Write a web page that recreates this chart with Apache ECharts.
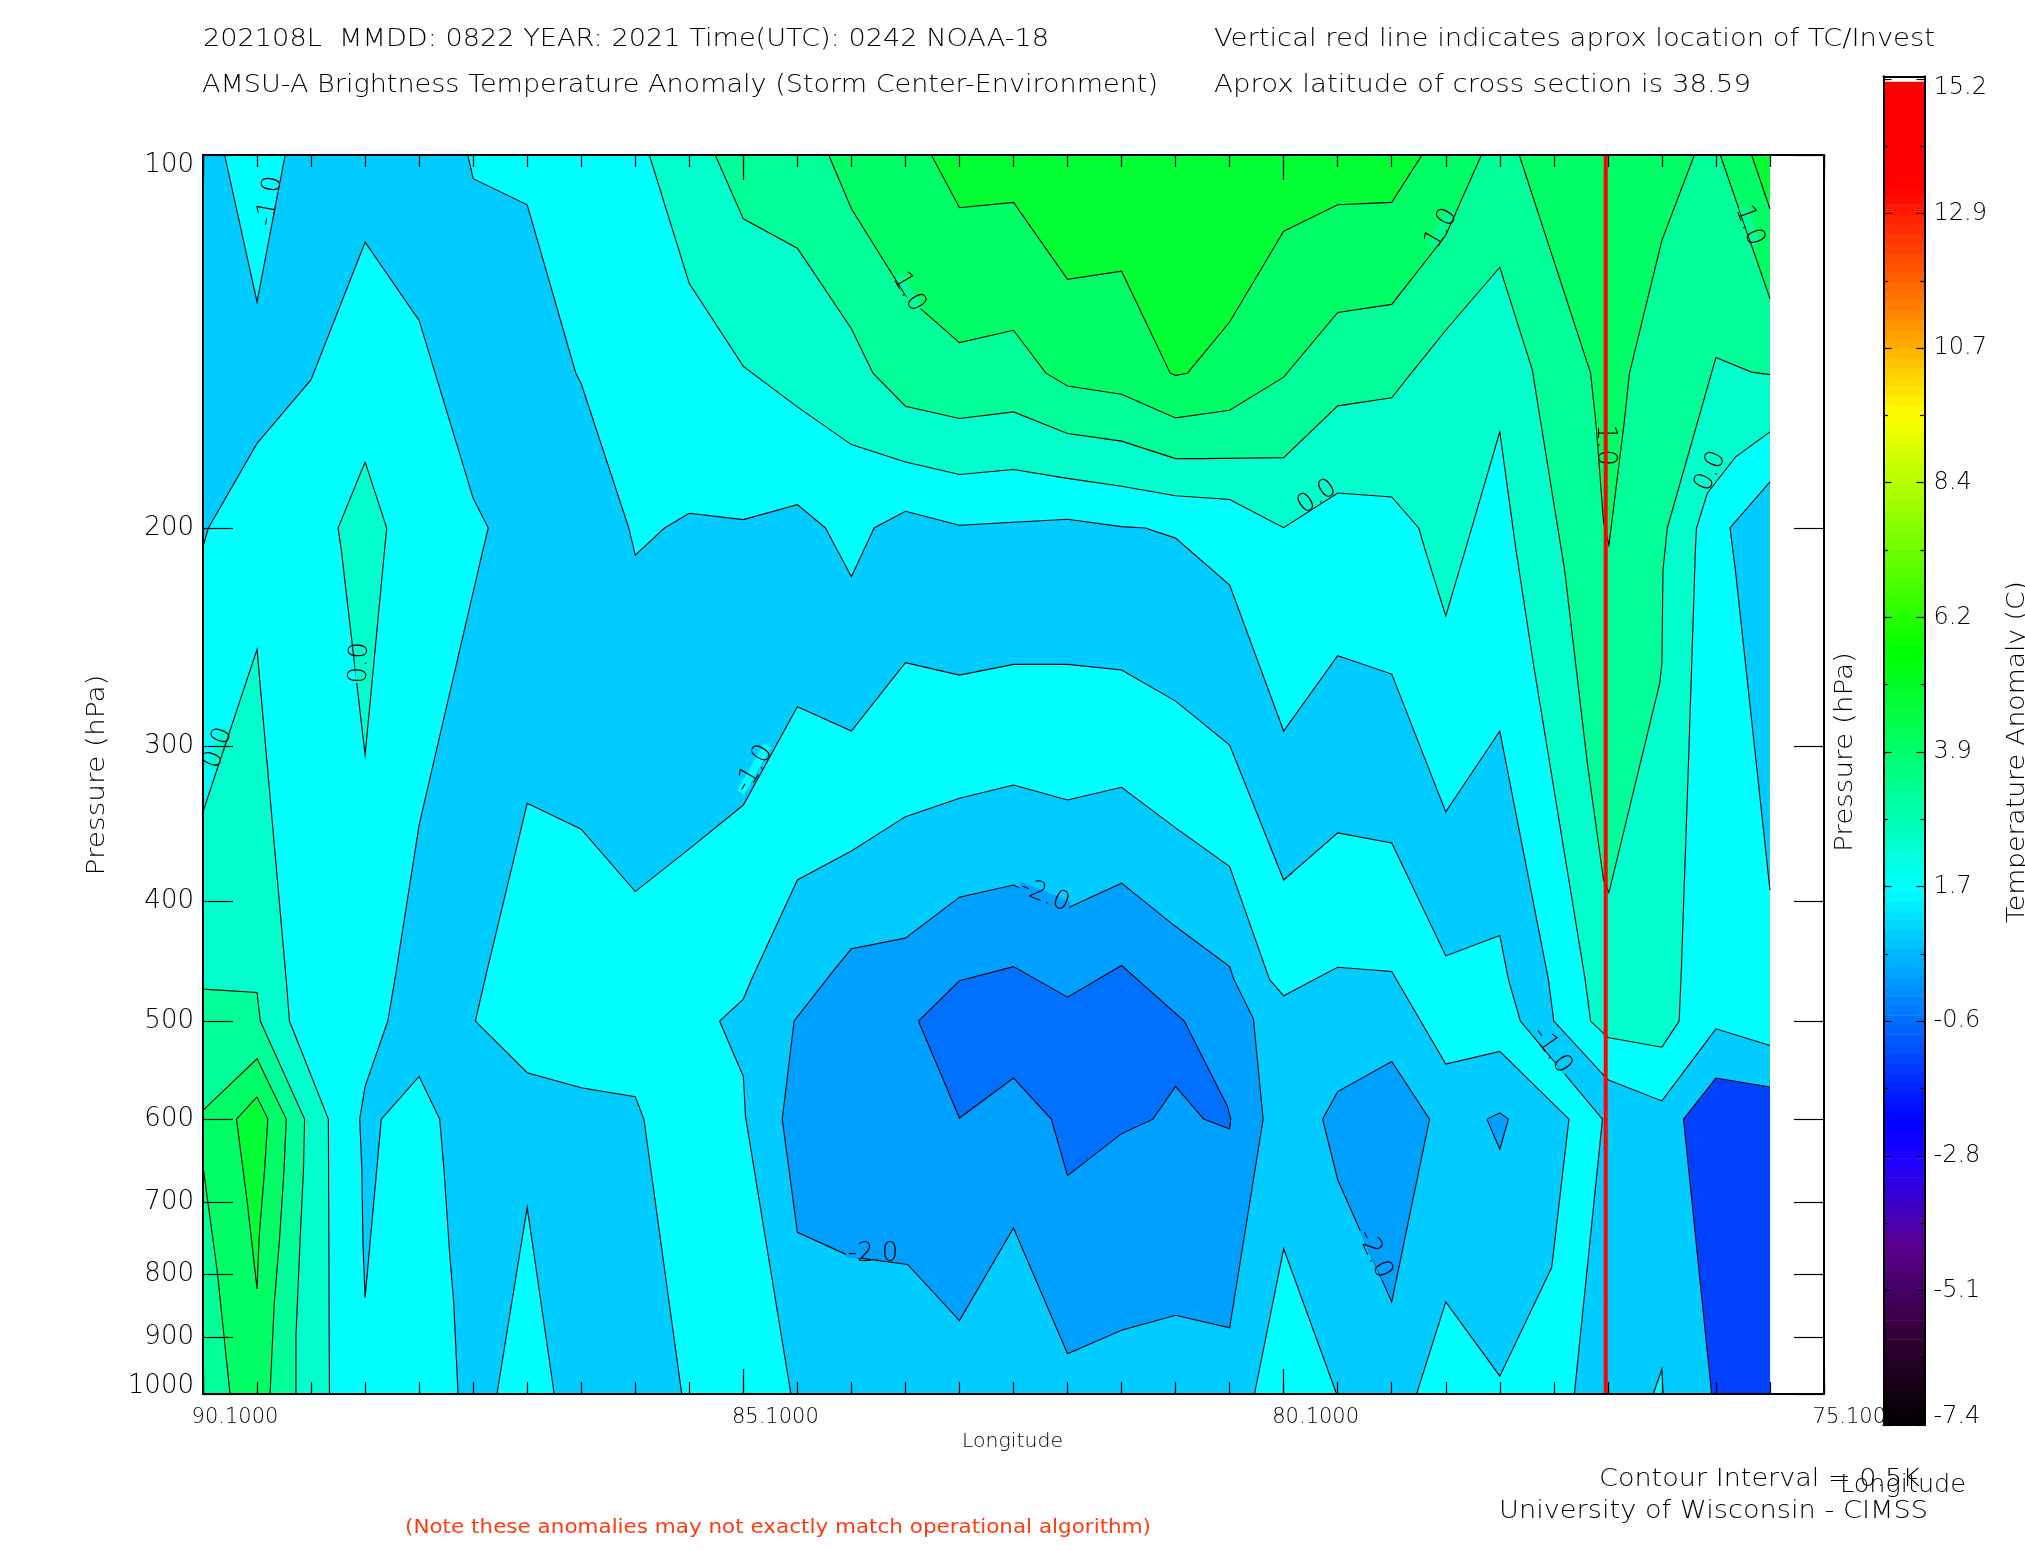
<!DOCTYPE html>
<html><head><meta charset="utf-8">
<style>html,body{margin:0;padding:0;background:#fff}#c{width:2025px;height:1550px}</style>
<script src="https://cdn.jsdelivr.net/npm/echarts@6/dist/echarts.min.js"></script>
</head><body><div id="c"></div>
<script>
// ---- axis values ----
const lonMajor = [90.1, 85.1, 80.1, 75.1];
const lonMinor = [90.1,89.6,89.1,88.6,88.1,87.6,87.1,86.6,86.1,85.6,85.1,84.6,84.1,83.6,83.1,82.6,82.1,81.6,81.1,80.6,80.1,79.6,79.1,78.6,78.1,77.6,77.1,76.6,76.1,75.6,75.1];
const pressureTicks = [100,200,300,400,500,600,700,800,900,1000];
const pressureLabelAt = [101.9,200,300,400,500,600,700,800,900,985];
const barTicks = [-7.4,-5.14,-2.88,-0.62,1.64,3.9,6.16,8.42,10.68,12.94,15.2];
const barLabelAt = [-7.27,-5.14,-2.88,-0.62,1.64,3.9,6.16,8.42,10.68,12.94,15.05];
const barLabels = ['-7.4','-5.1','-2.8','-0.6','1.7','3.9','6.2','8.4','10.7','12.9','15.2'];
const barMinor = [-6.27,-4.01,-1.75,0.51,2.77,5.03,7.29,9.55,11.81,14.07];
const tcLon = 77.12;
// ---- contour band outlines: [longitude, pressure hPa] ----
const bandBase = [[90.1,100],[75.6,100],[75.6,1000],[90.1,1000]];
const bandUpperBlue = [[90.1,100],[89.9,100],[89.6,131.4],[89.34,100],[87.65,100],[87.6,104.5],[87.1,109.7],[86.65,150],[86.6,153],[86.16,200],[86.1,210.4],[85.83,200],[85.6,194.6],[85.1,196.9],[84.6,191.5],[84.34,200],[84.1,219],[83.89,200],[83.6,193.9],[83.1,199],[82.6,197.9],[82.1,196.8],[81.6,199.5],[81.38,200],[81.1,203.8],[80.6,222.4],[80.1,291.7],[79.6,253.6],[79.1,262.4],[78.6,339],[78.1,291.7],[77.65,463],[77.6,500],[77.1,557.7],[76.6,580],[76.1,507.3],[75.6,523.3],[75.6,1000],[77.41,1000],[77.15,600],[77.91,500],[78.02,463],[78.1,426.6],[78.6,443],[79.1,359.1],[79.6,352.5],[80.1,384.7],[80.6,299.4],[81.1,275.9],[81.6,260.4],[82.1,257.7],[82.6,257.7],[83.1,262.9],[83.6,256.9],[84.1,291.7],[84.6,278.8],[85.1,334.7],[85.6,363.1],[86.1,393.1],[86.6,350.1],[87.1,333.6],[87.47,454.6],[87.58,500],[87.1,550.4],[86.6,566],[86.1,575.5],[86.02,600],[85.67,1000],[86.85,1000],[87.1,707],[87.38,1000],[87.74,1000],[87.78,844],[87.82,765],[87.87,659],[87.91,600],[88.1,554.3],[88.45,600],[88.6,836],[88.62,755],[88.63,659],[88.65,600],[88.6,564.6],[88.39,500],[88.31,454.6],[88.1,347.3],[87.51,208.4],[87.46,200],[87.6,189.3],[88.1,136],[88.6,117.6],[89.1,151.8],[89.6,170.9],[90.05,200],[90.1,207]];
const bandRightBlue = [[75.6,183.6],[75.97,200],[75.92,216.3],[75.6,391.9]];
const bandLowerBlue = [[85.03,464],[84.6,384.7],[84.1,364.5],[83.6,342],[83.1,330.5],[82.6,322.5],[82.1,331.6],[81.6,323.8],[81.1,349.2],[80.6,375.3],[80.23,463],[80.1,477.1],[79.82,463],[79.6,452.4],[79.1,456.1],[78.6,541.7],[78.1,529.1],[77.46,600],[77.62,790.6],[78.1,967.4],[78.6,842.7],[78.87,1000],[79.61,1000],[80.1,763.6],[80.37,1000],[84.66,1000],[85.08,597],[85.1,554.3],[85.32,500],[85.1,480]];
const bandMinus2 = [[84.26,454.6],[84.1,437.2],[83.6,428.6],[83.1,397.2],[82.6,388.3],[82.1,405.2],[81.6,387],[81.1,419.5],[80.6,451.9],[80.56,463],[80.38,498],[80.29,600],[80.6,884.4],[81.1,863.9],[81.6,888.3],[82.1,928],[82.6,734.5],[83.1,872.4],[83.58,786],[84.1,775],[84.6,740.4],[84.74,600],[84.63,500]];
const bandMinus3 = [[83.48,500],[83.1,464],[82.6,451.9],[82.1,478.3],[81.6,451],[81.02,500],[80.62,586],[80.59,600],[80.6,611],[80.84,600],[81.1,564.6],[81.31,600],[81.6,616.4],[82.1,666.5],[82.25,600],[82.6,555.9],[83.1,598.8]];
const bandMinus2East = [[79.1,539],[78.75,600],[79.1,842.7],[79.6,671.5],[79.74,600],[79.6,570]];
const bandMinus2Small = [[78.22,600],[78.1,593],[78.02,600],[78.1,634.4]];
const bandDeepBlue = [[76.4,600],[76.1,555.9],[75.6,565.3],[75.6,1000],[76.14,1000]];
const bandCyanSpike = [[76.6,955],[76.68,1000],[76.59,1000]];
const bandZeroDiamond = [[88.6,176.9],[88.4,200],[88.42,208.4],[88.6,305],[88.82,208.4],[88.85,200]];
const bandZeroWest = [[90.1,338.9],[89.6,250.6],[89.33,463],[89.3,500],[88.94,600],[88.93,1000],[90.1,1000]];
const bandHalfWest = [[90.1,471.2],[89.6,474.2],[89.57,500],[89.16,600],[89.17,659],[89.2,746],[89.24,898],[89.24,1000],[90.1,1000]];
const bandOneWest = [[90.1,590.4],[89.6,536.3],[89.33,600],[89.35,659],[89.39,746],[89.44,844],[89.48,1000],[89.85,1000],[89.97,793.6],[90.1,655]];
const bandOneHalfWest = [[89.6,575.8],[89.5,600],[89.53,659],[89.58,746],[89.6,822.5],[89.69,700.9],[89.79,600]];
const bandZeroTop = [[85.97,100],[85.6,127],[85.1,148.1],[84.6,159.7],[84.1,171.3],[83.6,176.9],[83.1,181.1],[82.6,179.4],[82.1,182.4],[81.6,185.1],[81.1,188.4],[80.6,189.7],[80.1,199.9],[79.6,187.4],[79.1,188.8],[78.85,200],[78.79,208.4],[78.6,235.5],[78.42,208.4],[78.1,167.3],[77.95,208.4],[77.79,257.1],[77.31,463],[77.26,500],[77.1,515.5],[76.6,524.9],[76.44,500],[76.42,454.6],[76.35,302.2],[76.29,208.4],[76.28,200],[76.18,187.5],[75.92,175.3],[75.6,167.3],[75.6,100]];
const bandHalfTop = [[85.36,100],[85.1,112.6],[84.6,118.9],[84.1,138.1],[83.9,150],[83.6,159.5],[83.1,163.2],[82.6,161.2],[82.1,167.8],[81.6,170.2],[81.1,175.8],[80.86,175.8],[80.1,175.5],[79.6,159.4],[79.1,157],[78.92,150],[78.6,138.5],[78.1,123.2],[77.8,149],[77.5,216.3],[77.29,309.6],[77.14,384.7],[77.09,393.8],[76.62,266.8],[76.6,257.1],[76.59,216.3],[76.55,200],[76.1,145.7],[75.77,149.7],[75.6,150.4],[75.6,100]];
const bandOneTopWest = [[84.31,100],[84.1,110.5],[83.6,129.8],[83.1,141.7],[82.6,138.5],[82.3,150],[82.1,153.6],[81.6,156],[81.1,163],[80.6,160.7],[80.1,151.1],[79.6,134],[79.1,132],[78.6,116.1],[78.27,100]];
const bandOneTopMid = [[77.92,100],[77.26,150],[77.21,164.7],[77.14,197.8],[77.09,206.5],[76.95,164.7],[76.9,150],[76.6,117.2],[76.3,100]];
const bandOneTopEast = [[76.06,100],[75.6,130.6],[75.6,100]];
const bandOneHalfTop = [[83.36,100],[83.1,110.3],[82.6,109.2],[82.1,126],[81.6,124.1],[81.15,150],[81.1,150.6],[80.99,150],[80.6,136.4],[80.1,115.2],[79.6,109.7],[79.1,109.2],[78.82,100]];
const bandOneHalfEast = [[75.77,100],[75.6,110.5],[75.6,100]];
// ---- contour labels ----
const labelLon = [89.48,83.57,78.64,75.79,77.13,79.79,76.15,88.65,89.96,85.0,82.31,83.9,79.26,77.62];
const labelP = [109,129,114.6,114,171.5,188.8,180,257,301,313,396,771,771,528];
const labelText = ['-1.0','1.0','1.0','1.0','1.0','0.0','0.0','0.0','0.0','-1.0','-2.0','-2.0','-2.0','-1.0'];
const labelAngle = [80,-60,60,-70,-90,35,65,88,70,60,-22,0,-65,-55];
const labelFill = ['#00ffff','#00ff99','#00ff99','#00ff99','#00ff66','#00ffcc','#00ffcc','#00ffcc','#00ffcc','#00ffff','#00a0ff','#00a0ff','#00a0ff','#00ccff'];
// ---- colour bar ----
const barStopVal = [-7.4,-6,-4.35,-3,-2.3,1.6,5.58,9.58,11.35,13.4,15.15];
const barStopCol = [[0,0,0],[48,0,48],[90,0,144],[32,0,255],[0,0,255],[0,255,255],[0,255,0],[255,255,0],[255,128,0],[255,0,0],[255,0,0]];

const C = {base:'#00ffff',b1:'#00ccff',b2:'#00a0ff',b3:'#0070ff',b4:'#0040ff',g0:'#00ffcc',g1:'#00ff99',g2:'#00ff66',g3:'#00ff33'};
const regions = [
 [bandBase,C.base],[bandUpperBlue,C.b1],[bandRightBlue,C.b1],[bandLowerBlue,C.b1],[bandMinus2,C.b2],[bandMinus3,C.b3],[bandMinus2East,C.b2],[bandMinus2Small,C.b2],[bandDeepBlue,C.b4],[bandCyanSpike,C.base],
 [bandZeroDiamond,C.g0],[bandZeroWest,C.g0],[bandHalfWest,C.g1],[bandOneWest,C.g2],[bandOneHalfWest,C.g3],
 [bandZeroTop,C.g0],[bandHalfTop,C.g1],[bandOneTopWest,C.g2],[bandOneTopMid,C.g2],[bandOneTopEast,C.g2],[bandOneHalfTop,C.g3],[bandOneHalfEast,C.g3]
];
const W=90.1,E=75.6,T=100,B=1000;
function onEdge(a,b){return (a[0]===W&&b[0]===W)||(a[0]===E&&b[0]===E)||(a[1]===T&&b[1]===T)||(a[1]===B&&b[1]===B);}
function renderBand(params,api){
  const [pts,col]=regions[params.dataIndex];
  const px=pts.map(p=>api.coord(p));
  const kids=[{type:'polygon',shape:{points:px},style:{fill:col,stroke:null},silent:true}];
  const n=pts.length;
  let s=-1;
  for(let i=0;i<n;i++){ if(onEdge(pts[(i+n-1)%n],pts[i])){s=i;break;} }
  const line=(arr)=>kids.push({type:'polyline',shape:{points:arr},style:{fill:null,stroke:'#000',lineWidth:1.1},silent:true});
  if(s<0){ line(px.concat([px[0]])); }
  else if(bandBase!==pts){
    let run=[px[s]];
    for(let k=0;k<n;k++){
      const a=(s+k)%n,b=(s+k+1)%n;
      if(onEdge(pts[a],pts[b])){ if(run.length>1)line(run); run=[px[b]]; }
      else run.push(px[b]);
    }
    if(run.length>1)line(run);
  }
  return {type:'group',children:kids};
}
function renderLabel(params,api){
  const i=params.dataIndex, c=api.coord([labelLon[i],labelP[i]]), r=labelAngle[i]*Math.PI/180;
  const w=labelText[i].length*13.5;
  return {type:'group',x:c[0],y:c[1],rotation:r,children:[
    {type:'rect',shape:{x:-w/2,y:-4,width:w,height:8},style:{fill:labelFill[i]},silent:true},
    {type:'text',style:{text:labelText[i],x:0,y:0,fill:'#000',font:'200 26px "DejaVu Sans"',align:'center',verticalAlign:'middle'},silent:true}
  ]};
}
function barColor(v){
  let i=0; while(i<barStopVal.length-2&&v>barStopVal[i+1])i++;
  const t=Math.max(0,Math.min(1,(v-barStopVal[i])/(barStopVal[i+1]-barStopVal[i])));
  const a=barStopCol[i],b=barStopCol[i+1];
  return 'rgb('+a.map((x,k)=>Math.round(x+(b[k]-x)*t)).join(',')+')';
}
const barData=[]; for(let v=-7.4;v<15.15;v+=0.16){barData.push([v,Math.min(v+0.16,15.15)]);}
function renderBar(params,api){
  const d=barData[params.dataIndex];
  const a=api.coord([0,d[1]]),b=api.coord([1,d[0]]);
  return {type:'rect',shape:{x:a[0],y:a[1],width:b[0]-a[0],height:b[1]-a[1]+0.6},style:{fill:barColor((d[0]+d[1])/2)},silent:true};
}
// ---- free text ----
const FONT='"DejaVu Sans"';
const mctx=document.createElement('canvas').getContext('2d');
function txt(s,x1,x2,y,size,color,weight){
  const f=(weight||200)+' '+size+'px '+FONT; mctx.font=f;
  const sc=(x2-x1)/mctx.measureText(s).width;
  return {type:'text',x:x1,y:y,scaleX:sc,z:20,silent:true,style:{text:s,font:f,fill:color||'#000',align:'left',verticalAlign:'middle'}};
}
function vtxt(s,cx,cy,len,size){
  const f='200 '+size+'px '+FONT; mctx.font=f;
  const sc=len/mctx.measureText(s).width;
  return {type:'text',x:cx,y:cy,rotation:Math.PI/2,scaleX:sc,z:20,silent:true,style:{text:s,font:f,fill:'#000',align:'center',verticalAlign:'middle'}};
}
const font='"DejaVu Sans"';
const base={type:'value',min:75.1,max:90.1,inverse:true,gridIndex:0,splitLine:{show:false},z:5};
const line={show:true,onZero:false,lineStyle:{color:'#000',width:2}};
const xMajTick=(p)=>({...base,position:p,axisLine:line,axisTick:{show:true,inside:true,length:25,customValues:lonMajor,lineStyle:{color:'#000',width:1.2}},axisLabel:{show:false}});
const xMinTick=(p)=>({...base,position:p,axisLine:{show:false},axisTick:{show:true,inside:true,length:12,customValues:lonMinor,lineStyle:{color:'#000',width:1.2}},axisLabel:{show:false}});
const yB={type:'log',logBase:10,min:100,max:1000,inverse:true,gridIndex:0,splitLine:{show:false},z:5};
const yTick=(p)=>({...yB,position:p,axisLine:line,axisTick:{show:true,inside:true,length:30,customValues:pressureTicks,lineStyle:{color:'#000',width:1.2}},axisLabel:{show:false}});
const barX=(p)=>({type:'value',min:0,max:1,gridIndex:1,position:p,z:12,splitLine:{show:false},axisLine:line,axisTick:{show:false},axisLabel:{show:false}});
const barY=(p,len,vals)=>({type:'value',min:-7.4,max:15.24,gridIndex:1,position:p,z:12,splitLine:{show:false},axisLine:line,
  axisTick:{show:true,inside:true,length:len,customValues:vals,lineStyle:{color:'#000',width:1.2}},axisLabel:{show:false}});
const x0=xMajTick('bottom');
x0.axisLabel={show:true,customValues:lonMajor,formatter:v=>v.toFixed(4),margin:13,align:'center',padding:[0,0,0,64],fontFamily:font,fontSize:21,fontWeight:200,color:'#000'};
const y0=yTick('left');
y0.axisLabel={show:true,customValues:pressureLabelAt,formatter:v=>String(pressureTicks[pressureLabelAt.findIndex(a=>Math.abs(a-v)<1e-6)]),margin:9,fontFamily:font,fontSize:26,fontWeight:200,color:'#000'};
const barYR=barY('right',8,barTicks);
barYR.axisLabel={show:true,customValues:barLabelAt,formatter:v=>barLabels[barLabelAt.indexOf(v)],margin:9,fontFamily:font,fontSize:24,fontWeight:200,color:'#000'};

const option={
 animation:false,backgroundColor:'#fff',
 grid:[{left:203,right:201,top:155,bottom:156},{left:1883.5,width:41,top:76.5,height:1348.5}],
 xAxis:[x0,xMajTick('top'),xMinTick('bottom'),xMinTick('top'),barX('bottom'),barX('top')],
 yAxis:[y0,yTick('right'),barY('left',8,barTicks),barYR,barY('left',4.5,barMinor),barY('right',4.5,barMinor)],
 series:[
  {type:'custom',name:'bands',xAxisIndex:0,yAxisIndex:0,z:2,silent:true,clip:false,renderItem:renderBand,data:regions.map(r=>r[0][0])},
  {type:'custom',name:'labels',xAxisIndex:0,yAxisIndex:0,z:3,silent:true,clip:false,renderItem:renderLabel,data:labelLon.map((v,i)=>[v,labelP[i]])},
  {type:'line',name:'TC location',xAxisIndex:0,yAxisIndex:0,z:4,silent:true,showSymbol:false,symbol:'none',lineStyle:{color:'#ff0000',width:4},data:[[tcLon,100],[tcLon,1000]]},
  {type:'custom',name:'colour bar',xAxisIndex:4,yAxisIndex:2,z:10,silent:true,renderItem:renderBar,data:barData.map(d=>[0,d[0]])}
 ],
 graphic:[
  txt('202108L  MMDD: 0822 YEAR: 2021 Time(UTC): 0242 NOAA-18',203,1049,39.5,24),
  txt('AMSU-A Brightness Temperature Anomaly (Storm Center-Environment)',202,1158,86,24),
  txt('Vertical red line indicates aprox location of TC/Invest',1214,1935,39.5,24),
  txt('Aprox latitude of cross section is 38.59',1214,1751,86,24),
  txt('Longitude',962,1063,1442.5,19),
  txt('Longitude',1840,1966,1485.5,24),
  txt('Contour Interval = 0.5K',1599,1920,1479.5,24),
  txt('University of Wisconsin - CIMSS',1499,1928,1511.5,24),
  txt('(Note these anomalies may not exactly match operational algorithm)',405,1151,1528,20,'#ff3c10',400),
  vtxt('Pressure (hPa)',98,775,201,24),
  vtxt('Pressure (hPa)',1846,752,200,24),
  vtxt('Temperature Anomaly (C)',2018,752,342,24)
 ]
};
const chart=echarts.init(document.getElementById('c'),null,{renderer:'canvas',width:2025,height:1550});
chart.setOption(option);
</script></body></html>
